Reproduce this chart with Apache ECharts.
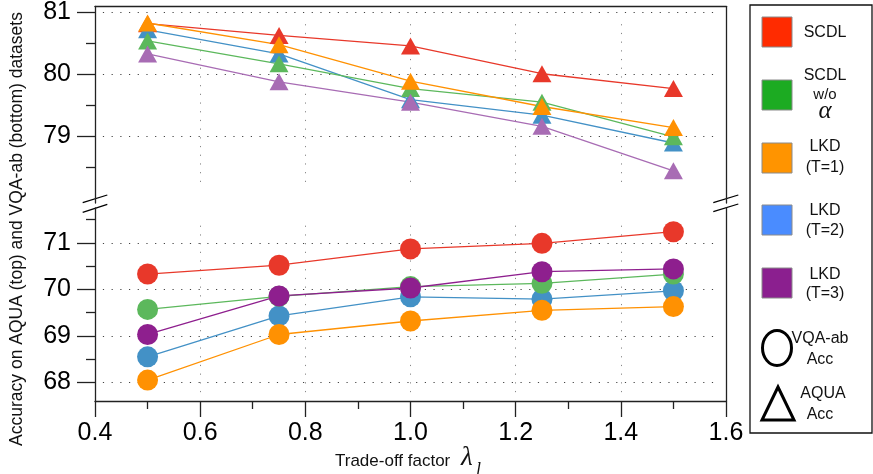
<!DOCTYPE html>
<html>
<head>
<meta charset="utf-8">
<script src="https://cdn.jsdelivr.net/npm/echarts@6/dist/echarts.min.js"></script>
<style>
  html, body { margin: 0; padding: 0; background: #fff; }
  #main { width: 873px; height: 474px; }
</style>
</head>
<body>
<div id="main"></div>
<script>
// trade-off factor values (x)
const lambdas = [0.5, 0.75, 1.0, 1.25, 1.5];

// AQUA accuracy (top panel, triangles)
const aquaSCDL = [80.82, 80.63, 80.46, 80.01, 79.77];
const aquaNoAlpha = [80.54, 80.17, 79.77, 79.55, 78.99];
const aquaLKD1 = [80.83, 80.48, 79.89, 79.48, 79.14];
const aquaLKD2 = [80.72, 80.33, 79.59, 79.34, 78.89];
const aquaLKD3 = [80.33, 79.88, 79.55, 79.16, 78.44];

// VQA-ab accuracy (bottom panel, circles)
const vqaSCDL = [70.33, 70.52, 70.87, 70.99, 71.24];
const vqaNoAlpha = [69.57, 69.85, 70.06, 70.13, 70.33];
const vqaLKD1 = [68.05, 69.03, 69.32, 69.55, 69.63];
const vqaLKD2 = [68.55, 69.43, 69.84, 69.79, 69.97];
const vqaLKD3 = [69.03, 69.86, 70.03, 70.38, 70.44];

// tick labels
const aquaTicks = [79, 80, 81];
const aquaHalfTicks = [78.5, 79.5, 80.5];
const vqaTicks = [68, 69, 70, 71];
const vqaHalfTicks = [68.5, 69.5, 70.5, 71.5];
const xGridTicks = [0.6, 0.8, 1.0, 1.2, 1.4];

const methods = ['SCDL', 'SCDL w/o α', 'LKD (T=1)', 'LKD (T=2)', 'LKD (T=3)'];
const aquaByMethod = {
  'SCDL': aquaSCDL, 'SCDL w/o α': aquaNoAlpha,
  'LKD (T=1)': aquaLKD1, 'LKD (T=2)': aquaLKD2, 'LKD (T=3)': aquaLKD3,
};
const vqaByMethod = {
  'SCDL': vqaSCDL, 'SCDL w/o α': vqaNoAlpha,
  'LKD (T=1)': vqaLKD1, 'LKD (T=2)': vqaLKD2, 'LKD (T=3)': vqaLKD3,
};

// styles
const drawOrder = ['SCDL', 'LKD (T=2)', 'SCDL w/o α', 'LKD (T=1)', 'LKD (T=3)'];
const circleColor = {
  'SCDL': '#e8382a', 'SCDL w/o α': '#5cb85c', 'LKD (T=1)': '#ff9102',
  'LKD (T=2)': '#4391c6', 'LKD (T=3)': '#8e1f8e',
};
const triangleColor = Object.assign({}, circleColor, { 'LKD (T=3)': '#a86cb4' });
const legendColor = {
  'SCDL': '#ff2b00', 'SCDL w/o α': '#1cab22', 'LKD (T=1)': '#ff9400',
  'LKD (T=2)': '#4a8cff', 'LKD (T=3)': '#8b1f8f',
};

const FONT = '"Liberation Sans", Arial, Helvetica, sans-serif';
const SERIF = '"Liberation Serif", "DejaVu Serif", serif';
const AXIS_COLOR = '#222';

const pairs = (ys) => lambdas.map((x, i) => [x, ys[i]]);

const dots = (color) => ({ color: color, width: 1, type: [1.2, 7.5] });

// dotted grid lines, drawn as mark lines so they only sit at the labelled values
const gridMarks = (ticks, xFrom, xTo, yFrom, yTo) => ({
  silent: true,
  symbol: ['none', 'none'],
  label: { show: false },
  animation: false,
  z: 0,
  data: ticks
    .map((v) => [
      { coord: [xFrom, v], lineStyle: dots('#444') },
      { coord: [xTo, v] },
    ])
    .concat(
      xGridTicks.map((x) => [
        { coord: [x, yFrom], lineStyle: dots('#888') },
        { coord: [x, yTo] },
      ])
    ),
});

const series = [];
drawOrder.forEach((name, i) => {
  series.push({
    name: name + ' AQUA',
    type: 'line',
    xAxisIndex: 0,
    yAxisIndex: 0,
    data: pairs(aquaByMethod[name]),
    symbol: 'triangle',
    symbolSize: [19, 17],
    color: triangleColor[name],
    lineStyle: { width: 1.3, color: triangleColor[name] },
    itemStyle: { color: triangleColor[name] },
    animation: false,
    markLine: i === 0 ? gridMarks(aquaTicks, 0.415, 1.585, 78.26, 80.87) : undefined,
  });
});
drawOrder.forEach((name, i) => {
  series.push({
    name: name + ' VQA-ab',
    type: 'line',
    xAxisIndex: 1,
    yAxisIndex: 3,
    data: pairs(vqaByMethod[name]),
    symbol: 'circle',
    symbolSize: 21,
    color: circleColor[name],
    lineStyle: { width: 1.3, color: circleColor[name] },
    itemStyle: { color: circleColor[name] },
    animation: false,
    markLine: i === 0 ? gridMarks(vqaTicks, 0.415, 1.585, 67.79, 71.41) : undefined,
  });
});

// legend (box with coloured squares + marker shape explanations)
const legendLines = [
  [['SCDL', 33]],
  [['SCDL', 76], ['w/o', 95, 15], ['α', 111, 25, SERIF, 'italic']],
  [['LKD', 147], ['(T=1)', 168]],
  [['LKD', 211], ['(T=2)', 231]],
  [['LKD', 275], ['(T=3)', 294]],
];
const swatchTop = [17, 80, 143, 205, 268];

const graphics = [
  {
    type: 'rect',
    shape: { x: 750, y: 5, width: 122, height: 428 },
    style: { fill: '#fff', stroke: '#111', lineWidth: 1.3 },
  },
];
methods.forEach((name, i) => {
  graphics.push({
    type: 'rect',
    shape: { x: 762, y: swatchTop[i], width: 30, height: 30 },
    style: { fill: legendColor[name], stroke: '#8a8a8a', lineWidth: 1 },
  });
  legendLines[i].forEach(([text, y, size, family, fontStyle]) => {
    graphics.push({
      type: 'text',
      x: 825,
      y: y,
      style: {
        text: text,
        fill: '#111',
        font: (fontStyle || 'normal') + ' ' + (size || 16) + 'px ' + (family || FONT),
        align: 'center',
        verticalAlign: 'middle',
      },
    });
  });
});
graphics.push(
  {
    type: 'ellipse',
    shape: { cx: 777, cy: 348, rx: 14.5, ry: 17.5 },
    style: { fill: 'none', stroke: '#000', lineWidth: 3 },
  },
  { type: 'text', x: 820, y: 339, style: { text: 'VQA-ab', fill: '#111', font: '16px ' + FONT, align: 'center', verticalAlign: 'middle' } },
  { type: 'text', x: 820, y: 360, style: { text: 'Acc', fill: '#111', font: '16px ' + FONT, align: 'center', verticalAlign: 'middle' } },
  {
    type: 'polygon',
    shape: { points: [[778, 387], [762, 420], [794, 420]] },
    style: { fill: 'none', stroke: '#000', lineWidth: 3, lineJoin: 'miter' },
  },
  { type: 'text', x: 823, y: 394, style: { text: 'AQUA', fill: '#111', font: '16px ' + FONT, align: 'center', verticalAlign: 'middle' } },
  { type: 'text', x: 820, y: 415, style: { text: 'Acc', fill: '#111', font: '16px ' + FONT, align: 'center', verticalAlign: 'middle' } }
);

// axis break marks
[[82.7, 202.7, 107.3, 195], [82.7, 212.3, 107.3, 204.3],
 [713.3, 202.7, 738.3, 195], [713.3, 211.7, 738.3, 204]].forEach(([x1, y1, x2, y2]) => {
  graphics.push({
    type: 'line',
    shape: { x1, y1, x2, y2 },
    style: { stroke: '#000', lineWidth: 1.3 },
  });
});

// axis titles
graphics.push(
  {
    type: 'text',
    x: 17,
    y: 229,
    rotation: Math.PI / 2,
    style: {
      text: 'Accuracy on AQUA (top) and VQA-ab (bottom) datasets',
      fill: '#111',
      font: '17.5px ' + FONT,
      align: 'center',
      verticalAlign: 'middle',
    },
  },
  {
    type: 'text',
    x: 335,
    y: 461,
    style: { text: 'Trade-off factor', fill: '#111', font: '17px ' + FONT, align: 'left', verticalAlign: 'middle' },
  },
  {
    type: 'text',
    x: 461,
    y: 458,
    style: { text: 'λ', fill: '#111', font: 'italic 27px ' + SERIF, align: 'left', verticalAlign: 'middle' },
  },
  {
    type: 'text',
    x: 476,
    y: 470,
    style: { text: 'l', fill: '#111', font: 'italic 18px ' + SERIF, align: 'left', verticalAlign: 'middle' },
  }
);

const lineOnly = (extra) => Object.assign({
  axisLine: { show: true, lineStyle: { color: AXIS_COLOR, width: 1.3 } },
  axisTick: { show: false },
  axisLabel: { show: false },
  splitLine: { show: false },
}, extra);

const option = {
  backgroundColor: '#fff',
  animation: false,
  grid: [
    { left: 95, right: 147, top: 6, height: 197 },
    { left: 95, right: 147, top: 208, height: 193 },
  ],
  xAxis: [
    lineOnly({ type: 'value', gridIndex: 0, min: 0.4, max: 1.6, position: 'top' }),
    {
      type: 'value',
      gridIndex: 1,
      min: 0.4,
      max: 1.6,
      interval: 0.2,
      position: 'bottom',
      axisLine: { show: true, lineStyle: { color: AXIS_COLOR, width: 1.3 } },
      axisTick: { show: true, length: 16, lineStyle: { color: AXIS_COLOR, width: 1.3 } },
      minorTick: { show: true, splitNumber: 2, length: 8, lineStyle: { color: AXIS_COLOR, width: 1.3 } },
      axisLabel: {
        fontSize: 25,
        fontFamily: FONT,
        color: '#000',
        margin: 20,
        formatter: (v) => v.toFixed(1),
      },
      splitLine: { show: false },
    },
  ],
  yAxis: [
    {
      type: 'value',
      gridIndex: 0,
      min: 77.92,
      max: 81.1,
      position: 'left',
      axisLine: { show: true, lineStyle: { color: AXIS_COLOR, width: 1.3 } },
      axisTick: { show: true, length: 18, customValues: aquaTicks, lineStyle: { color: AXIS_COLOR, width: 1.3 } },
      axisLabel: { customValues: aquaTicks, fontSize: 25, fontFamily: FONT, color: '#000', margin: 24 },
      splitLine: { show: false },
    },
    {
      type: 'value',
      gridIndex: 0,
      min: 77.92,
      max: 81.1,
      position: 'left',
      axisLine: { show: false },
      axisTick: { show: true, length: 9, customValues: aquaHalfTicks, lineStyle: { color: AXIS_COLOR, width: 1.3 } },
      axisLabel: { show: false },
      splitLine: { show: false },
    },
    lineOnly({ type: 'value', gridIndex: 0, min: 77.92, max: 81.1, position: 'right' }),
    {
      type: 'value',
      gridIndex: 1,
      min: 67.6,
      max: 71.75,
      position: 'left',
      axisLine: { show: true, lineStyle: { color: AXIS_COLOR, width: 1.3 } },
      axisTick: { show: true, length: 18, customValues: vqaTicks, lineStyle: { color: AXIS_COLOR, width: 1.3 } },
      axisLabel: { customValues: vqaTicks, fontSize: 25, fontFamily: FONT, color: '#000', margin: 24 },
      splitLine: { show: false },
    },
    {
      type: 'value',
      gridIndex: 1,
      min: 67.6,
      max: 71.75,
      position: 'left',
      axisLine: { show: false },
      axisTick: { show: true, length: 9, customValues: vqaHalfTicks, lineStyle: { color: AXIS_COLOR, width: 1.3 } },
      axisLabel: { show: false },
      splitLine: { show: false },
    },
    lineOnly({ type: 'value', gridIndex: 1, min: 67.6, max: 71.75, position: 'right' }),
  ],
  series: series,
  graphic: graphics,
};

const chart = echarts.init(document.getElementById('main'));
chart.setOption(option);
</script>
</body>
</html>
